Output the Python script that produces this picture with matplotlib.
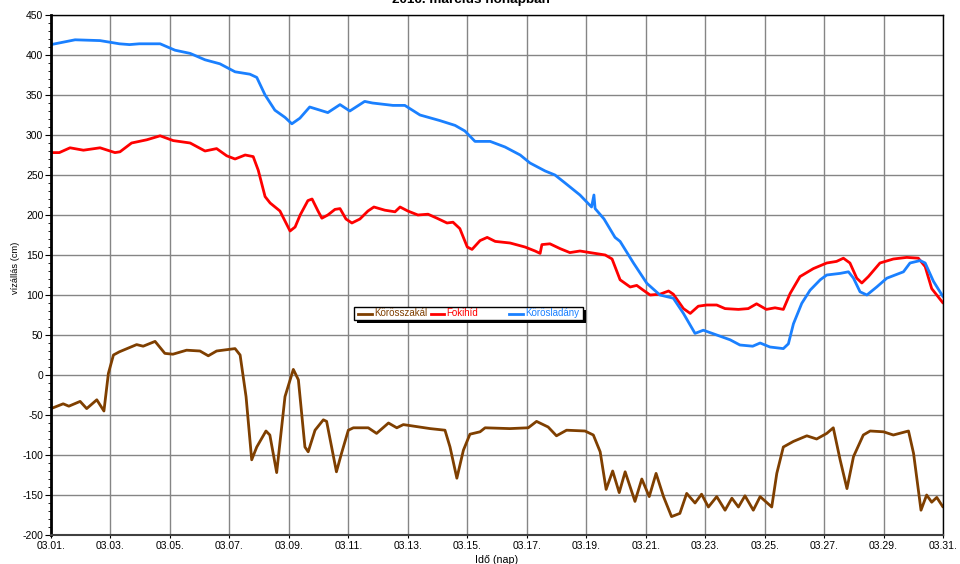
import matplotlib
matplotlib.use("Agg")
import matplotlib.pyplot as plt
from matplotlib.ticker import MultipleLocator
from matplotlib.lines import Line2D
from matplotlib.patches import Rectangle

plt.rcParams['font.family'] = ['Liberation Sans', 'DejaVu Sans']
plt.rcParams['axes.unicode_minus'] = False

title = "2016. március hónapban"
ylabel = "vízállás (cm)"
xlabel = "Idő (nap)"
series_names = ["Körösszakál", "Fokihíd", "Körösladány"]
series_colors = ["#7f3f00", "#ff0000", "#1a80ff"]

xtick_days = list(range(1, 32, 2))
xtick_labels = ["03.%02d." % d for d in xtick_days]

# Körösszakál
brown_x = [1.0, 1.41, 1.6, 1.98, 2.2, 2.54, 2.78, 2.93, 3.1, 3.3, 3.88, 4.1, 4.5, 4.83, 5.1, 5.56,
           6.01, 6.29, 6.57, 7.19, 7.36, 7.56, 7.75, 7.92, 8.23, 8.36, 8.59, 8.87, 9.15, 9.32, 9.54,
           9.65, 9.88, 10.16, 10.27, 10.6, 10.77, 11.0, 11.17, 11.67, 11.95, 12.35, 12.63, 12.85,
           13.75, 14.25, 14.42, 14.65, 14.87, 15.09, 15.43, 15.6, 16.43, 17.05, 17.33, 17.72, 18.0,
           18.34, 18.96, 19.24, 19.47, 19.67, 19.89, 20.11, 20.31, 20.64, 20.87, 21.12, 21.35, 21.6,
           21.87, 22.15, 22.38, 22.66, 22.88, 23.11, 23.39, 23.67, 23.9, 24.12, 24.34, 24.62, 24.85,
           25.24, 25.41, 25.63, 25.97, 26.42, 26.75, 27.09, 27.31, 27.54, 27.77, 27.99, 28.32, 28.55,
           29.0, 29.33, 29.84, 30.01, 30.26, 30.45, 30.62, 30.79, 31.0]
brown_y = [-42, -36, -39, -33, -42, -31, -45, 2, 25, 29, 38, 36, 42, 27, 26, 31,
           30, 24, 30, 33, 25, -27, -106, -90, -70, -75, -122, -27, 7, -6, -90,
           -96, -69, -56, -58, -121, -98, -69, -66, -66, -73, -60, -66, -62,
           -67, -69, -90, -129, -94, -74, -71, -66, -67, -66, -58, -65, -76,
           -69, -70, -75, -96, -143, -120, -147, -121, -158, -130, -152, -123, -152,
           -177, -173, -148, -160, -149, -165, -152, -169, -154, -165, -151, -169, -152,
           -165, -123, -90, -83, -76, -80, -73, -66, -106, -142, -102, -75, -70,
           -71, -75, -70, -98, -169, -150, -159, -153, -165]

# Fokihíd
red_x = [1.0, 1.28, 1.64, 2.09, 2.65, 3.15, 3.32, 3.71, 4.22, 4.67, 5.11, 5.68, 6.18, 6.57, 6.91,
         7.19, 7.53, 7.8, 7.97, 8.2, 8.37, 8.7, 9.04, 9.21, 9.38, 9.64, 9.78, 9.98, 10.11, 10.31,
         10.55, 10.72, 10.92, 11.12, 11.39, 11.66, 11.86, 12.23, 12.57, 12.74, 13.0, 13.34, 13.68,
         13.98, 14.32, 14.52, 14.75, 15.0, 15.16, 15.43, 15.67, 15.94, 16.44, 16.94, 17.28, 17.45,
         17.51, 17.78, 18.12, 18.45, 18.79, 19.3, 19.64, 19.87, 20.14, 20.48, 20.7, 20.92, 21.15,
         21.48, 21.77, 21.93, 22.27, 22.5, 22.77, 23.05, 23.39, 23.67, 24.12, 24.45, 24.73, 25.06,
         25.35, 25.63, 25.86, 26.19, 26.64, 27.09, 27.42, 27.65, 27.87, 28.1, 28.27, 28.49, 28.88,
         29.33, 29.78, 30.17, 30.4, 30.62, 31.0]
red_y = [278, 278, 284, 281, 284, 278, 279, 290, 294, 299, 293, 290, 280, 283, 274,
         270, 275, 273, 256, 223, 215, 205, 180, 185, 200, 218, 220, 205, 196, 200,
         207, 208, 195, 190, 195, 205, 210, 206, 204, 210, 205, 200, 201,
         196, 190, 191, 183, 160, 157, 168, 172, 167, 165, 160, 155, 152,
         163, 164, 158, 153, 155, 152, 150, 145, 119, 110, 112, 106, 100,
         101, 105, 101, 83, 77, 86, 87.5, 87.5, 83, 82, 83, 89, 82,
         84, 82, 102, 123, 133, 140, 142, 146, 140, 121, 115, 123, 140,
         145, 147, 146, 135.5, 108, 90]

# Körösladány
blue_x = [1.0, 1.81, 2.65, 3.3, 3.64, 3.97, 4.67, 5.17, 5.68, 6.18, 6.68, 7.19, 7.69, 7.92, 8.2,
          8.53, 8.87, 9.1, 9.37, 9.7, 10.05, 10.31, 10.72, 11.05, 11.55, 11.81, 12.5, 12.9, 13.41,
          14.08, 14.59, 14.92, 15.26, 15.77, 16.27, 16.78, 17.11, 17.62, 17.95, 18.29, 18.79, 19.18,
          19.26, 19.3, 19.6, 19.97, 20.14, 20.59, 21.04, 21.48, 21.93, 22.27, 22.66, 22.94, 23.39,
          23.84, 24.17, 24.6, 24.85, 25.18, 25.63, 25.8, 25.97, 26.25, 26.53, 26.87, 27.09, 27.54,
          27.82, 27.99, 28.21, 28.44, 28.77, 29.11, 29.67, 29.89, 30.23, 30.4, 30.68, 31.0]
blue_y = [413, 419, 418, 414, 413, 414, 414, 406, 402, 394, 389, 379, 376, 372, 350,
          331, 322, 314, 321, 335, 331, 328, 338, 330, 342, 340, 337, 337, 325,
          318, 312, 305, 292, 292, 285, 275, 265, 255, 250, 240, 225, 210,
          225, 208, 195, 172, 167, 140, 114.6, 100, 96, 77, 52, 56, 50,
          44, 37.5, 36, 40, 35, 33, 39, 64, 89.6, 106, 119, 125, 127,
          129, 121, 104, 100, 110, 121, 129, 140, 143, 140, 117, 98]

W, H = 960, 564
fig = plt.figure(figsize=(W / 100, H / 100), dpi=100)
ax = fig.add_axes([51 / W, 29 / H, 892 / W, 520 / H])

lines = []
for xs, ys, col in [(brown_x, brown_y, series_colors[0]),
                    (red_x, red_y, series_colors[1]),
                    (blue_x, blue_y, series_colors[2])]:
    ln, = ax.plot(xs, ys, color=col, lw=2.0, solid_joinstyle='round', solid_capstyle='round')
    lines.append(ln)

ax.set_xlim(1, 31)
ax.set_ylim(-200, 450)
ax.set_xticks(xtick_days)
ax.set_xticklabels(xtick_labels)
ax.yaxis.set_major_locator(MultipleLocator(50))
ax.yaxis.set_minor_locator(MultipleLocator(10))
ax.grid(True, which='major', color='#858585', lw=1.0)
ax.set_axisbelow(True)
ax.tick_params(axis='both', which='major', labelsize=7.5, length=4, width=0.8, pad=1.5)
ax.tick_params(axis='y', which='minor', length=2.5, width=0.6)
ax.tick_params(axis='x', which='major', length=2, pad=2.5)
for s in ['top', 'right']:
    ax.spines[s].set_color('black')
    ax.spines[s].set_linewidth(1.0)
ax.spines['left'].set_linewidth(2.0)
ax.spines['left'].set_color('black')
ax.spines['bottom'].set_linewidth(1.5)
ax.spines['bottom'].set_color('#404040')

def fx(px):
    return px / W

def fy(py):
    return 1 - py / H

fig.text(fx(471), fy(2.5), title, ha='center', va='baseline', fontsize=9.7, fontweight='bold')
fig.text(fx(15), fy(268), ylabel, rotation=90, ha='center', va='center', fontsize=6.7)
fig.text(fx(475), fy(563), xlabel, ha='left', va='baseline', fontsize=7.7)

# legend box with hard shadow
lx0, lx1, ly0, ly1 = 354, 583, 307, 320
fig.add_artist(Rectangle((fx(lx0 + 2.5), fy(ly1 + 2.5)), fx(lx1 - lx0), (ly1 - ly0) / H,
                         transform=fig.transFigure, facecolor='black', edgecolor='black', lw=0, zorder=5))
fig.add_artist(Rectangle((fx(lx0), fy(ly1)), fx(lx1 - lx0), (ly1 - ly0) / H,
                         transform=fig.transFigure, facecolor='white', edgecolor='black', lw=1.0, zorder=6))
handle_px = [(358, 372), (431, 444), (509, 523)]
text_px = [374, 446, 525]
ymid = 313.5
for (h0, h1), tx, name, col in zip(handle_px, text_px, series_names, series_colors):
    fig.add_artist(Line2D([fx(h0), fx(h1)], [fy(ymid), fy(ymid)], transform=fig.transFigure,
                          color=col, lw=2.0, zorder=7))
    fig.text(fx(tx), fy(ymid), name, color=col, ha='left', va='center', fontsize=7, zorder=7)

fig.savefig("out.png", dpi=100)
